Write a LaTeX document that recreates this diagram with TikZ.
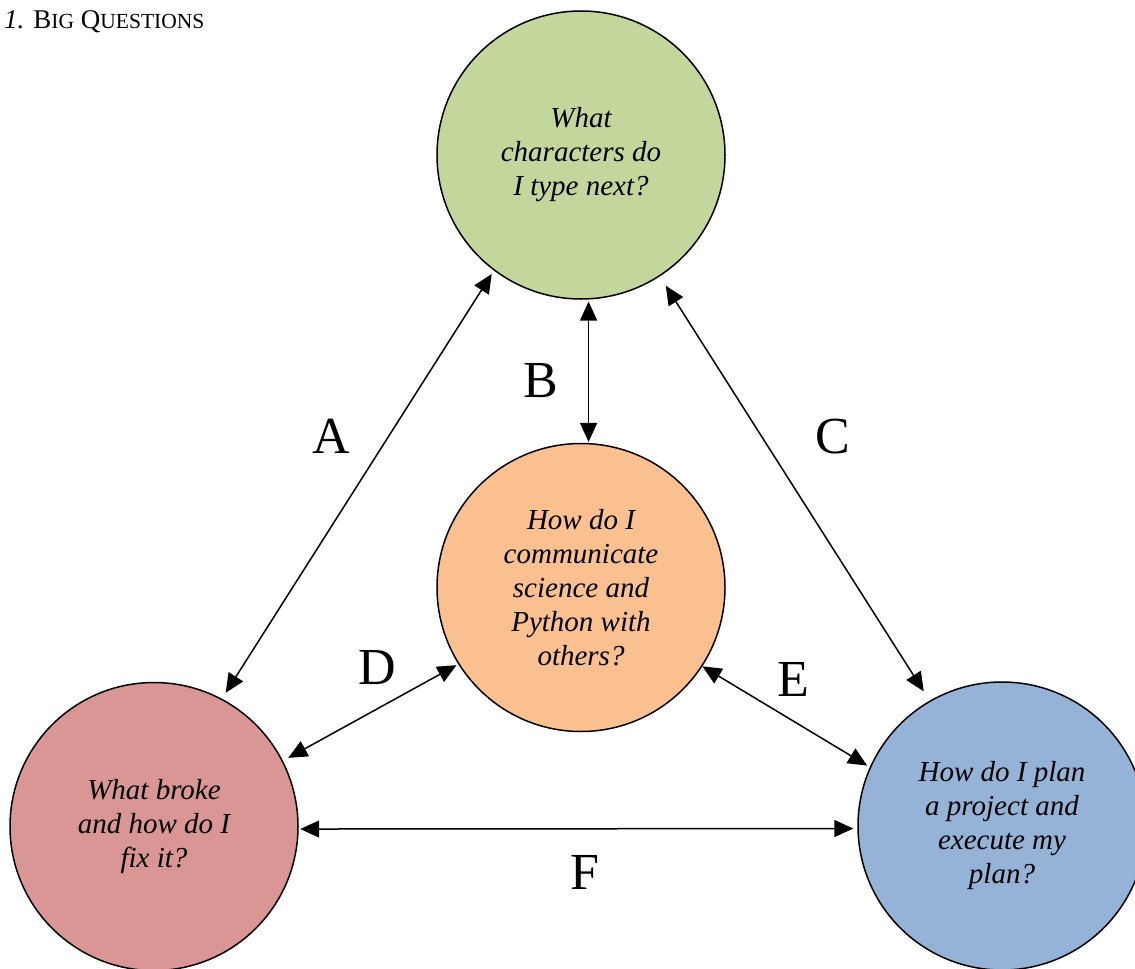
\documentclass[tikz,border=0pt]{standalone}
\usepackage{fontspec}
\setmainfont{Liberation Serif}
\usetikzlibrary{arrows.meta}
\definecolor{cgreen}{HTML}{C3D69B}
\definecolor{corange}{HTML}{FAC090}
\definecolor{cred}{HTML}{D99694}
\definecolor{cblue}{HTML}{95B3D7}
\tikzset{
  bubble/.style={circle, draw=black, line width=1.5pt, minimum size=288pt, inner sep=0pt,
    align=center, font=\fontsize{29}{34}\selectfont\itshape},
  conn/.style={line width=1.5pt, {Triangle[length=19pt,width=17pt]}-{Triangle[length=19pt,width=17pt]}},
  lbl/.style={anchor=base, font=\fontsize{52}{56}\selectfont, inner sep=0pt},
}
\begin{document}
\begin{tikzpicture}[x=1pt,y=-1pt]
\useasboundingbox (0,0) rectangle (1135,969);
\node[anchor=base west, inner sep=0pt, font=\fontsize{27}{30}\selectfont] (title) at (4,28)
  {\textit{1.} B{\fontsize{21.5}{24}\selectfont IG} Q{\fontsize{21.5}{24}\selectfont UESTIONS}};
\node[bubble, fill=cgreen] (green) at (581,155) {What\\characters do\\I type next?};
\node[bubble, fill=corange] (orange) at (581,587.5) {How do I\\communicate\\science and\\Python with\\others?};
\node[bubble, fill=cred] (red) at (154,826.5) {What broke\\and how do I\\fix it?};
\node[bubble, fill=cblue] (blue) at (1002,826) {How do I plan\\a project and\\execute my\\plan?};
\draw[conn, shorten <=4pt, shorten >=7pt] (green.233.5) -- (red.62.1);
\draw[conn, shorten <=2pt, shorten >=1pt] (green.-87.6) -- (orange.87.2);
\draw[conn, shorten <=11pt, shorten >=11pt] (green.-57.3) -- (blue.120.8);
\draw[conn, shorten <=6pt, shorten >=2pt] (red.27.2) -- (orange.212.9);
\draw[conn, shorten <=0pt, shorten >=3pt] (orange.-33.1) -- (blue.156.9);
\draw[conn, shorten <=1.5pt, shorten >=4pt] (red.-1.2) -- (blue.181.2);
\node[lbl] (la) at (331,453) {A};
\node[lbl] (lb) at (541,397) {B};
\node[lbl] (lc) at (833,453) {C};
\node[lbl] (ld) at (377,684) {D};
\node[lbl] (le) at (793,696) {E};
\node[lbl] (lf) at (585,889) {F};
\end{tikzpicture}
\end{document}
